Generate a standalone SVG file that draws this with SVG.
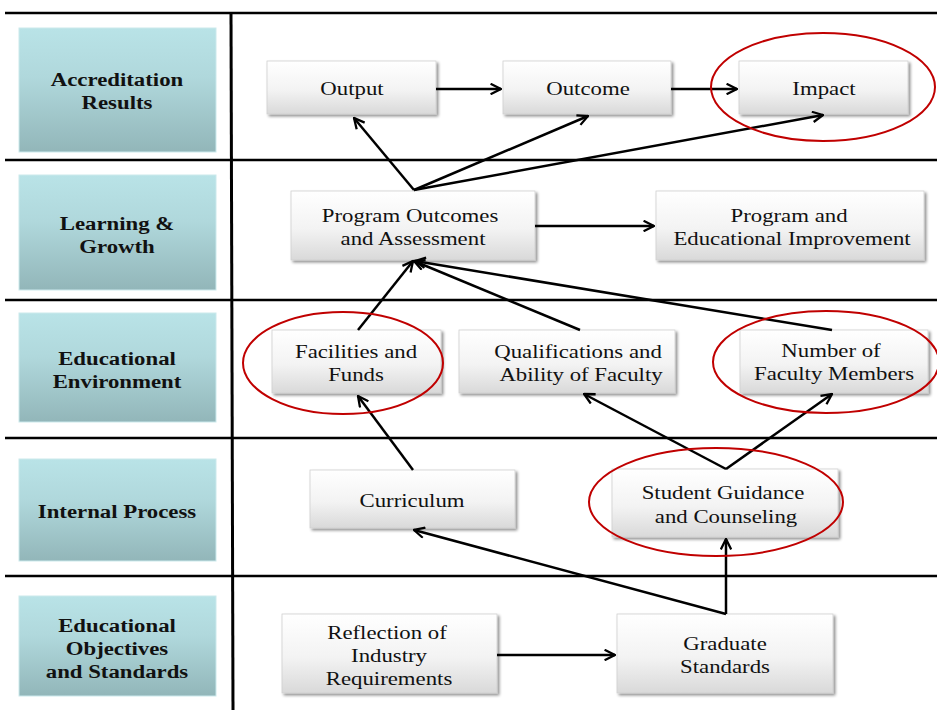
<svg xmlns="http://www.w3.org/2000/svg" width="937" height="710" viewBox="0 0 937 710">
<defs>
<linearGradient id="lbl" x1="0" y1="0" x2="0" y2="1">
<stop offset="0" stop-color="#b9e3e7"/><stop offset="0.4" stop-color="#b0d8dc"/><stop offset="1" stop-color="#92b6b9"/>
</linearGradient>
<linearGradient id="box" x1="0" y1="0" x2="0" y2="1">
<stop offset="0" stop-color="#ffffff"/><stop offset="0.55" stop-color="#f3f3f3"/><stop offset="1" stop-color="#d9d9d9"/>
</linearGradient>
<filter id="sh" x="-10%" y="-10%" width="125%" height="130%">
<feGaussianBlur in="SourceAlpha" stdDeviation="1.5"/><feOffset dx="1.5" dy="2" result="b"/>
<feComponentTransfer><feFuncA type="linear" slope="0.45"/></feComponentTransfer>
<feMerge><feMergeNode/><feMergeNode in="SourceGraphic"/></feMerge>
</filter>
<marker id="ah" viewBox="0 0 12 12" refX="11" refY="6" markerWidth="5" markerHeight="5" orient="auto" markerUnits="strokeWidth">
<path d="M1,1 L11,6 L1,11" fill="none" stroke="#000" stroke-width="2.2"/>
</marker>
</defs>
<style>
.lb{fill:url(#lbl);stroke:#cbe9ec;stroke-width:1}
.lt{font-family:'Liberation Serif','DejaVu Serif',serif;font-weight:bold;font-size:19px;fill:#111;text-anchor:middle}
.bx{fill:url(#box);stroke:#d0d0d0;stroke-width:0.8;filter:url(#sh)}
.bt{font-family:'Liberation Serif','DejaVu Serif',serif;font-size:19px;fill:#111;text-anchor:middle}
.ln{stroke:#000;stroke-width:2.5;fill:none}
.ar{stroke:#000;stroke-width:2.5;fill:none;marker-end:url(#ah)}
.el{fill:none;stroke:#c00000;stroke-width:2}
</style>
<rect width="937" height="710" fill="#fff"/>
<g id="grid">
<line class="ln" x1="5" y1="13" x2="937" y2="13"/>
<line class="ln" x1="5" y1="160" x2="937" y2="160"/>
<line class="ln" x1="5" y1="300" x2="937" y2="300"/>
<line class="ln" x1="5" y1="438" x2="937" y2="438"/>
<line class="ln" x1="5" y1="576" x2="937" y2="576"/>
<line class="ln" x1="231" y1="13" x2="233" y2="710" style="stroke-width:3"/>
</g>
<g id="lane-accreditation"><rect class="lb" x="19" y="28" width="197" height="124"/><text class="lt" transform="translate(117,86) scale(1.2,1)">Accreditation</text><text class="lt" transform="translate(117,109) scale(1.2,1)">Results</text></g>
<g id="lane-learning"><rect class="lb" x="19" y="175" width="197" height="115"/><text class="lt" transform="translate(117,230) scale(1.2,1)">Learning &amp;</text><text class="lt" transform="translate(117,253) scale(1.2,1)">Growth</text></g>
<g id="lane-environment"><rect class="lb" x="19" y="313" width="197" height="109"/><text class="lt" transform="translate(117,365) scale(1.2,1)">Educational</text><text class="lt" transform="translate(117,388) scale(1.2,1)">Environment</text></g>
<g id="lane-internal"><rect class="lb" x="19" y="459" width="197" height="102"/><text class="lt" transform="translate(117,518) scale(1.2,1)">Internal Process</text></g>
<g id="lane-objectives"><rect class="lb" x="19" y="596" width="197" height="100"/><text class="lt" transform="translate(117,632) scale(1.2,1)">Educational</text><text class="lt" transform="translate(117,655) scale(1.2,1)">Objectives</text><text class="lt" transform="translate(117,678) scale(1.2,1)">and Standards</text></g>

<g id="output"><rect class="bx" x="267" y="61" width="169" height="53"/><text class="bt" transform="translate(352,95) scale(1.2,1)">Output</text></g>
<g id="outcome"><rect class="bx" x="503" y="61" width="168" height="53"/><text class="bt" transform="translate(588,95) scale(1.2,1)">Outcome</text></g>
<g id="impact"><rect class="bx" x="739" y="61" width="169" height="53"/><text class="bt" transform="translate(824,95) scale(1.2,1)">Impact</text></g>
<g id="program-outcomes"><rect class="bx" x="291" y="191" width="244" height="69"/><text class="bt" transform="translate(410,222) scale(1.2,1)">Program Outcomes</text><text class="bt" transform="translate(413,245) scale(1.2,1)">and Assessment</text></g>
<g id="program-improvement"><rect class="bx" x="656" y="191" width="268" height="69"/><text class="bt" transform="translate(789,222) scale(1.2,1)">Program and</text><text class="bt" transform="translate(792,245) scale(1.2,1)">Educational Improvement</text></g>
<g id="facilities"><rect class="bx" x="272" y="330" width="169" height="63"/><text class="bt" transform="translate(356,358) scale(1.2,1)">Facilities and</text><text class="bt" transform="translate(356,381) scale(1.2,1)">Funds</text></g>
<g id="qualifications"><rect class="bx" x="459" y="330" width="216" height="63"/><text class="bt" transform="translate(578,358) scale(1.2,1)">Qualifications and</text><text class="bt" transform="translate(581,381) scale(1.2,1)">Ability of Faculty</text></g>
<g id="number-faculty"><rect class="bx" x="740" y="330" width="188" height="63"/><text class="bt" transform="translate(831,357) scale(1.2,1)">Number of</text><text class="bt" transform="translate(834,380) scale(1.2,1)">Faculty Members</text></g>
<g id="curriculum"><rect class="bx" x="310" y="470" width="205" height="58"/><text class="bt" transform="translate(412,507) scale(1.2,1)">Curriculum</text></g>
<g id="student-guidance"><rect class="bx" x="612" y="469" width="226" height="68"/><text class="bt" transform="translate(723,499) scale(1.2,1)">Student Guidance</text><text class="bt" transform="translate(726,523) scale(1.2,1)">and Counseling</text></g>
<g id="reflection"><rect class="bx" x="282" y="614" width="215" height="79"/><text class="bt" transform="translate(387,639) scale(1.2,1)">Reflection of</text><text class="bt" transform="translate(389,662) scale(1.2,1)">Industry</text><text class="bt" transform="translate(389,685) scale(1.2,1)">Requirements</text></g>
<g id="graduate"><rect class="bx" x="617" y="614" width="216" height="79"/><text class="bt" transform="translate(725,650) scale(1.2,1)">Graduate</text><text class="bt" transform="translate(725,673) scale(1.2,1)">Standards</text></g>

<g id="connectors">
<line class="ar" x1="436" y1="89" x2="501" y2="89"/>
<line class="ar" x1="671" y1="89" x2="737" y2="89"/>
<line class="ar" x1="414" y1="190" x2="354" y2="118"/>
<line class="ar" x1="414" y1="190" x2="588" y2="116"/>
<line class="ar" x1="414" y1="190" x2="823" y2="115"/>
<line class="ar" x1="535" y1="226" x2="654" y2="226"/>
<line class="ar" x1="358" y1="330" x2="413" y2="261"/>
<line class="ar" x1="580" y1="330" x2="414" y2="261"/>
<line class="ar" x1="832" y1="330" x2="415" y2="261"/>
<line class="ar" x1="413" y1="470" x2="358" y2="396"/>
<line class="ar" x1="726" y1="469" x2="584" y2="394"/>
<line class="ar" x1="726" y1="469" x2="832" y2="394"/>
<line class="ar" x1="726" y1="614" x2="726" y2="539"/>
<line class="ar" x1="726" y1="614" x2="414" y2="530"/>
<line class="ar" x1="497" y1="655" x2="615" y2="655"/>
</g>
<g id="highlights">
<ellipse class="el" cx="823" cy="87" rx="112" ry="54"/>
<ellipse class="el" cx="343" cy="363" rx="100" ry="51"/>
<ellipse class="el" cx="826" cy="362" rx="113" ry="51"/>
<ellipse class="el" cx="716" cy="502" rx="127" ry="54"/>
</g>
</svg>
